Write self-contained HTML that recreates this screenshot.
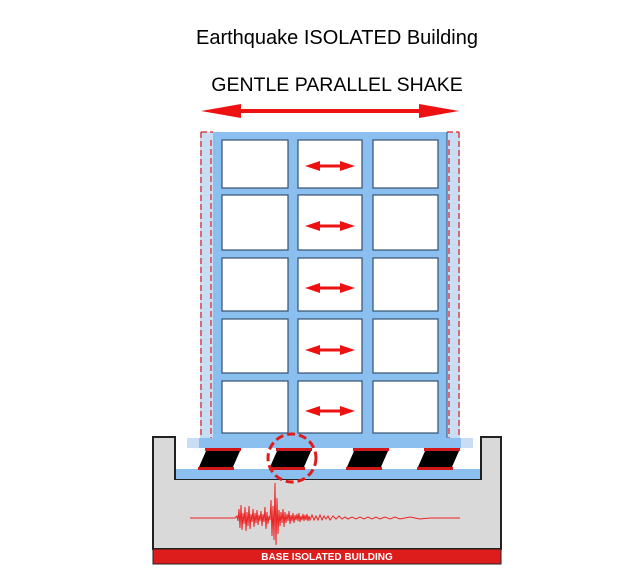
<!DOCTYPE html>
<html><head><meta charset="utf-8"><style>
html,body{margin:0;padding:0;background:#fff}
svg{display:block}
</style></head><body>
<svg width="630" height="576" viewBox="0 0 630 576" xmlns="http://www.w3.org/2000/svg">
<text x="337" y="44" font-family="Liberation Sans, sans-serif" font-size="20" text-anchor="middle" fill="#000">Earthquake ISOLATED Building</text>
<text x="337" y="91" font-family="Liberation Sans, sans-serif" font-size="19.5" text-anchor="middle" fill="#000">GENTLE PARALLEL SHAKE</text>
<!-- big arrow -->
<line x1="235" y1="111" x2="425" y2="111" stroke="#ee1111" stroke-width="4"/>
<polygon points="201,111 241,104 241,118" fill="#ee1111"/>
<polygon points="459,111 419,104 419,118" fill="#ee1111"/>
<!-- ground -->
<path d="M153,437 H175 V479 H481 V437 H501 V549 H153 Z" fill="#d9d9d9" stroke="#222" stroke-width="2"/>
<rect x="153" y="549" width="348" height="15" fill="#dd1c1c" stroke="#222" stroke-width="1"/>
<text x="327" y="560" font-family="Liberation Sans, sans-serif" font-size="10" font-weight="bold" text-anchor="middle" fill="#fff">BASE ISOLATED BUILDING</text>
<rect x="176" y="469" width="304" height="10" fill="#8bbff0"/>
<!-- side ghost strips -->
<rect x="200" y="132" width="13" height="306" fill="#c9def5"/>
<rect x="447" y="132" width="13" height="306" fill="#c9def5"/>
<!-- frame -->
<rect x="213" y="132" width="234" height="306" fill="#8bbff0"/>
<g fill="#fff" stroke="#33506e" stroke-width="1.2">
<rect x="222" y="140" width="66" height="48"/><rect x="298" y="140" width="64" height="48"/><rect x="373" y="140" width="65" height="48"/>
<rect x="222" y="195" width="66" height="55"/><rect x="298" y="195" width="64" height="55"/><rect x="373" y="195" width="65" height="55"/>
<rect x="222" y="258" width="66" height="53"/><rect x="298" y="258" width="64" height="53"/><rect x="373" y="258" width="65" height="53"/>
<rect x="222" y="319" width="66" height="54"/><rect x="298" y="319" width="64" height="54"/><rect x="373" y="319" width="65" height="54"/>
<rect x="222" y="381" width="66" height="52"/><rect x="298" y="381" width="64" height="52"/><rect x="373" y="381" width="65" height="52"/>
</g>
<line x1="447" y1="132" x2="447" y2="438" stroke="#33506e" stroke-width="1"/>
<!-- dashed outlines -->
<g fill="none" stroke="#e02020" stroke-width="1.2" stroke-dasharray="6,3">
<line x1="201" y1="132" x2="201" y2="440"/><line x1="459" y1="132" x2="459" y2="440"/>
<line x1="201" y1="132" x2="213" y2="132"/><line x1="447" y1="132" x2="459" y2="132"/>
<line x1="211" y1="140" x2="211" y2="440"/><line x1="449" y1="140" x2="449" y2="440"/>
</g>
<!-- base beam -->
<rect x="187" y="438" width="286" height="10" fill="#c9def5"/>
<rect x="199" y="438" width="262" height="10" fill="#8bbff0"/>
<!-- small arrows -->
<g fill="#ee1111">
<g id="sa"><rect x="315" y="164.5" width="30" height="3"/><polygon points="305,166 320,161 320,171"/><polygon points="355,166 340,161 340,171"/></g>
<use href="#sa" y="60"/><use href="#sa" y="122"/><use href="#sa" y="184"/><use href="#sa" y="245"/>
</g>
<!-- bearings -->
<g>
<g id="br"><rect x="205" y="448" width="36" height="3" fill="#d01818"/><rect x="198" y="467" width="36" height="3" fill="#d01818"/><polygon points="206,451 240,451 233,467 199,467" fill="#000"/></g>
<use href="#br" x="71"/><use href="#br" x="148"/><use href="#br" x="219"/>
</g>
<circle cx="292" cy="458" r="24" fill="none" stroke="#dd1c1c" stroke-width="3" stroke-dasharray="8,4"/>
<!-- seismic trace -->
<polyline fill="none" stroke="#ee2222" stroke-width="1" points="190,518 235,518 237,516 238,521 239,509 240,528 241,505 242,530 243,513 244,524 245,507 246,531 247,512 248,526 249,506 250,529 251,514 252,522 253,509 254,527 255,513 256,523 257,510 258,525 259,515 260,521 261,511 262,526 263,514 264,522 265,507 266,529 267,512 268,524 269,516 270,520 271,500 272,536 273,506 274,540 275,483 276,545 277,498 278,534 279,510 280,526 281,512 282,523 283,509 284,527 285,512 286,523 287,514 288,521 289,511 290,524 291,515 292,521 293,513 294,523 295,515 296,520 297,514 298,521 299,513 300,522 301,516 302,520 303,514 304,521 305,515 306,520 307,514 308,521 309,516 310,520 312,515 314,520 316,516 318,520 320,515 322,520 324,516 326,519 328,516 330,520 333,516 336,519 339,516 342,519 345,517 348,519 352,517 356,519 360,517 364,519 368,517 372,519 376,517 380,519 385,517 390,519 395,517 400,519 410,517 420,519 430,518 460,518"/>
</svg>
</body></html>
